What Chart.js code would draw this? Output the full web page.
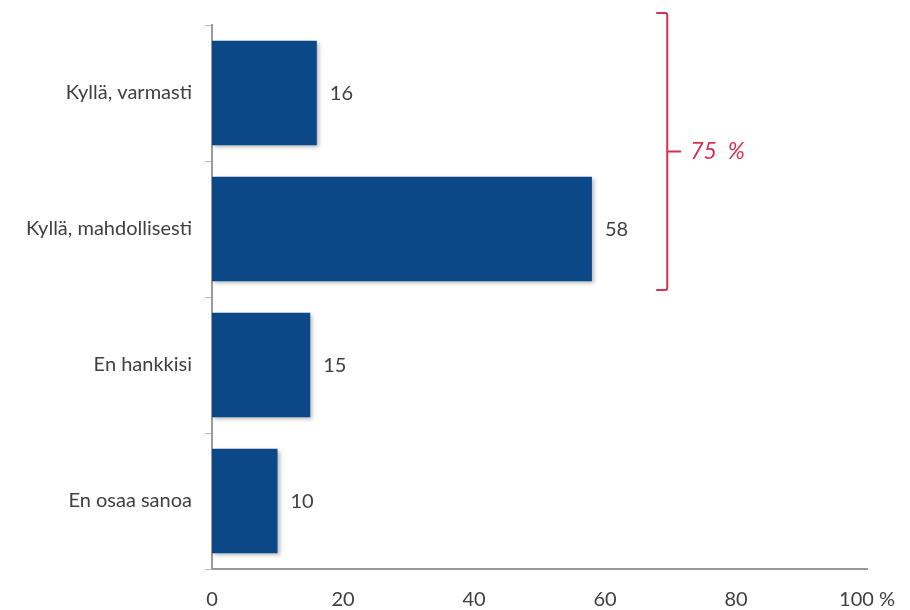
<!DOCTYPE html>
<html>
<head>
<meta charset="utf-8">
<script src="https://cdn.jsdelivr.net/npm/chart.js@4"></script>
<style>
  html, body { margin: 0; padding: 0; background: #ffffff; }
  #wrap { width: 910px; height: 610px; }
</style>
</head>
<body>
<div id="wrap"><canvas id="answersChart"></canvas></div>
<script>
// answers and their shares (%)
const categories = ['Kyllä, varmasti', 'Kyllä, mahdollisesti', 'En hankkisi', 'En osaa sanoa'];
const shares = [16, 58, 15, 10];
const xTicks = [0, 20, 40, 60, 80, 100];
const xTickLabels = ['0', '20', '40', '60', '80', '100 %'];
// the two "yes" answers are grouped under one bracket
const bracketRows = [0, 1];
const bracketLabel = '75  %';

const textColor = '#404040';
const barColor = '#0c4787';
const accent = '#d9304f';
const font = { family: 'Lato, "Open Sans", sans-serif', size: 20 };

// soft shadow under the bars
const barShadow = {
  id: 'barShadow',
  beforeDatasetsDraw(chart) {
    const ctx = chart.ctx;
    ctx.save();
    ctx.shadowColor = 'rgba(0,0,0,0.28)';
    ctx.shadowBlur = 4;
    ctx.shadowOffsetX = 2;
    ctx.shadowOffsetY = 2;
  },
  afterDatasetsDraw(chart) {
    chart.ctx.restore();
  }
};

// value printed to the right of each bar
const valueLabels = {
  id: 'valueLabels',
  afterDatasetsDraw(chart) {
    const ctx = chart.ctx;
    const meta = chart.getDatasetMeta(0);
    ctx.save();
    ctx.fillStyle = textColor;
    ctx.font = font.size + 'px ' + font.family;
    ctx.textAlign = 'left';
    ctx.textBaseline = 'middle';
    meta.data.forEach((bar, i) => {
      ctx.fillText(String(shares[i]), bar.x + 13, bar.y + 1);
    });
    ctx.restore();
  }
};

// red bracket with the combined share
const bracket = {
  id: 'bracket',
  afterDraw(chart) {
    const ctx = chart.ctx;
    const xs = chart.scales.x;
    const ys = chart.scales.y;
    const half = (ys.getPixelForValue(1) - ys.getPixelForValue(0)) / 2;
    const top = ys.getPixelForValue(bracketRows[0]) - half - 12;
    const bottom = ys.getPixelForValue(bracketRows[bracketRows.length - 1]) + half - 7;
    const mid = (top + bottom) / 2;
    const x = xs.getPixelForValue(69.5);
    ctx.save();
    ctx.strokeStyle = accent;
    ctx.lineWidth = 2;
    ctx.beginPath();
    ctx.moveTo(x - 11, top);
    ctx.lineTo(x - 2, top);
    ctx.quadraticCurveTo(x, top, x, top + 2);
    ctx.lineTo(x, bottom - 2);
    ctx.quadraticCurveTo(x, bottom, x - 2, bottom);
    ctx.lineTo(x - 11, bottom);
    ctx.moveTo(x, mid);
    ctx.lineTo(x + 14, mid);
    ctx.stroke();
    ctx.fillStyle = accent;
    ctx.font = 'italic 23px ' + font.family;
    ctx.textAlign = 'left';
    ctx.textBaseline = 'middle';
    ctx.fillText(bracketLabel, x + 23, mid);
    ctx.restore();
  }
};

new Chart(document.getElementById('answersChart'), {
  type: 'bar',
  data: {
    labels: categories,
    datasets: [{
      data: shares,
      backgroundColor: barColor,
      borderWidth: 0,
      barPercentage: 0.77,
      categoryPercentage: 1.0
    }]
  },
  options: {
    indexAxis: 'y',
    responsive: true,
    maintainAspectRatio: false,
    animation: false,
    layout: { padding: { top: 24, right: 43, bottom: 0, left: 0 } },
    plugins: {
      legend: { display: false },
      tooltip: { enabled: false }
    },
    scales: {
      x: {
        min: 0,
        max: 100,
        afterBuildTicks(scale) {
          scale.ticks = xTicks.map(v => ({ value: v }));
        },
        afterFit(scale) {
          scale.height = 41;
          scale.paddingLeft = 0;
          scale.paddingRight = 0;
        },
        ticks: {
          color: textColor,
          font: font,
          padding: 19,
          maxRotation: 0,
          callback: (v, i) => xTickLabels[i]
        },
        grid: { display: false, drawTicks: false },
        border: { display: true, color: '#9a9a9a', width: 2 }
      },
      y: {
        afterFit(scale) { scale.width = 212; },
        ticks: {
          color: textColor,
          font: font,
          padding: 13
        },
        grid: {
          offset: true,
          drawOnChartArea: false,
          drawTicks: true,
          tickLength: 7,
          color: '#bdbdbd'
        },
        border: { display: true, color: '#9a9a9a', width: 2 }
      }
    }
  },
  plugins: [barShadow, valueLabels, bracket]
});
</script>
</body>
</html>
